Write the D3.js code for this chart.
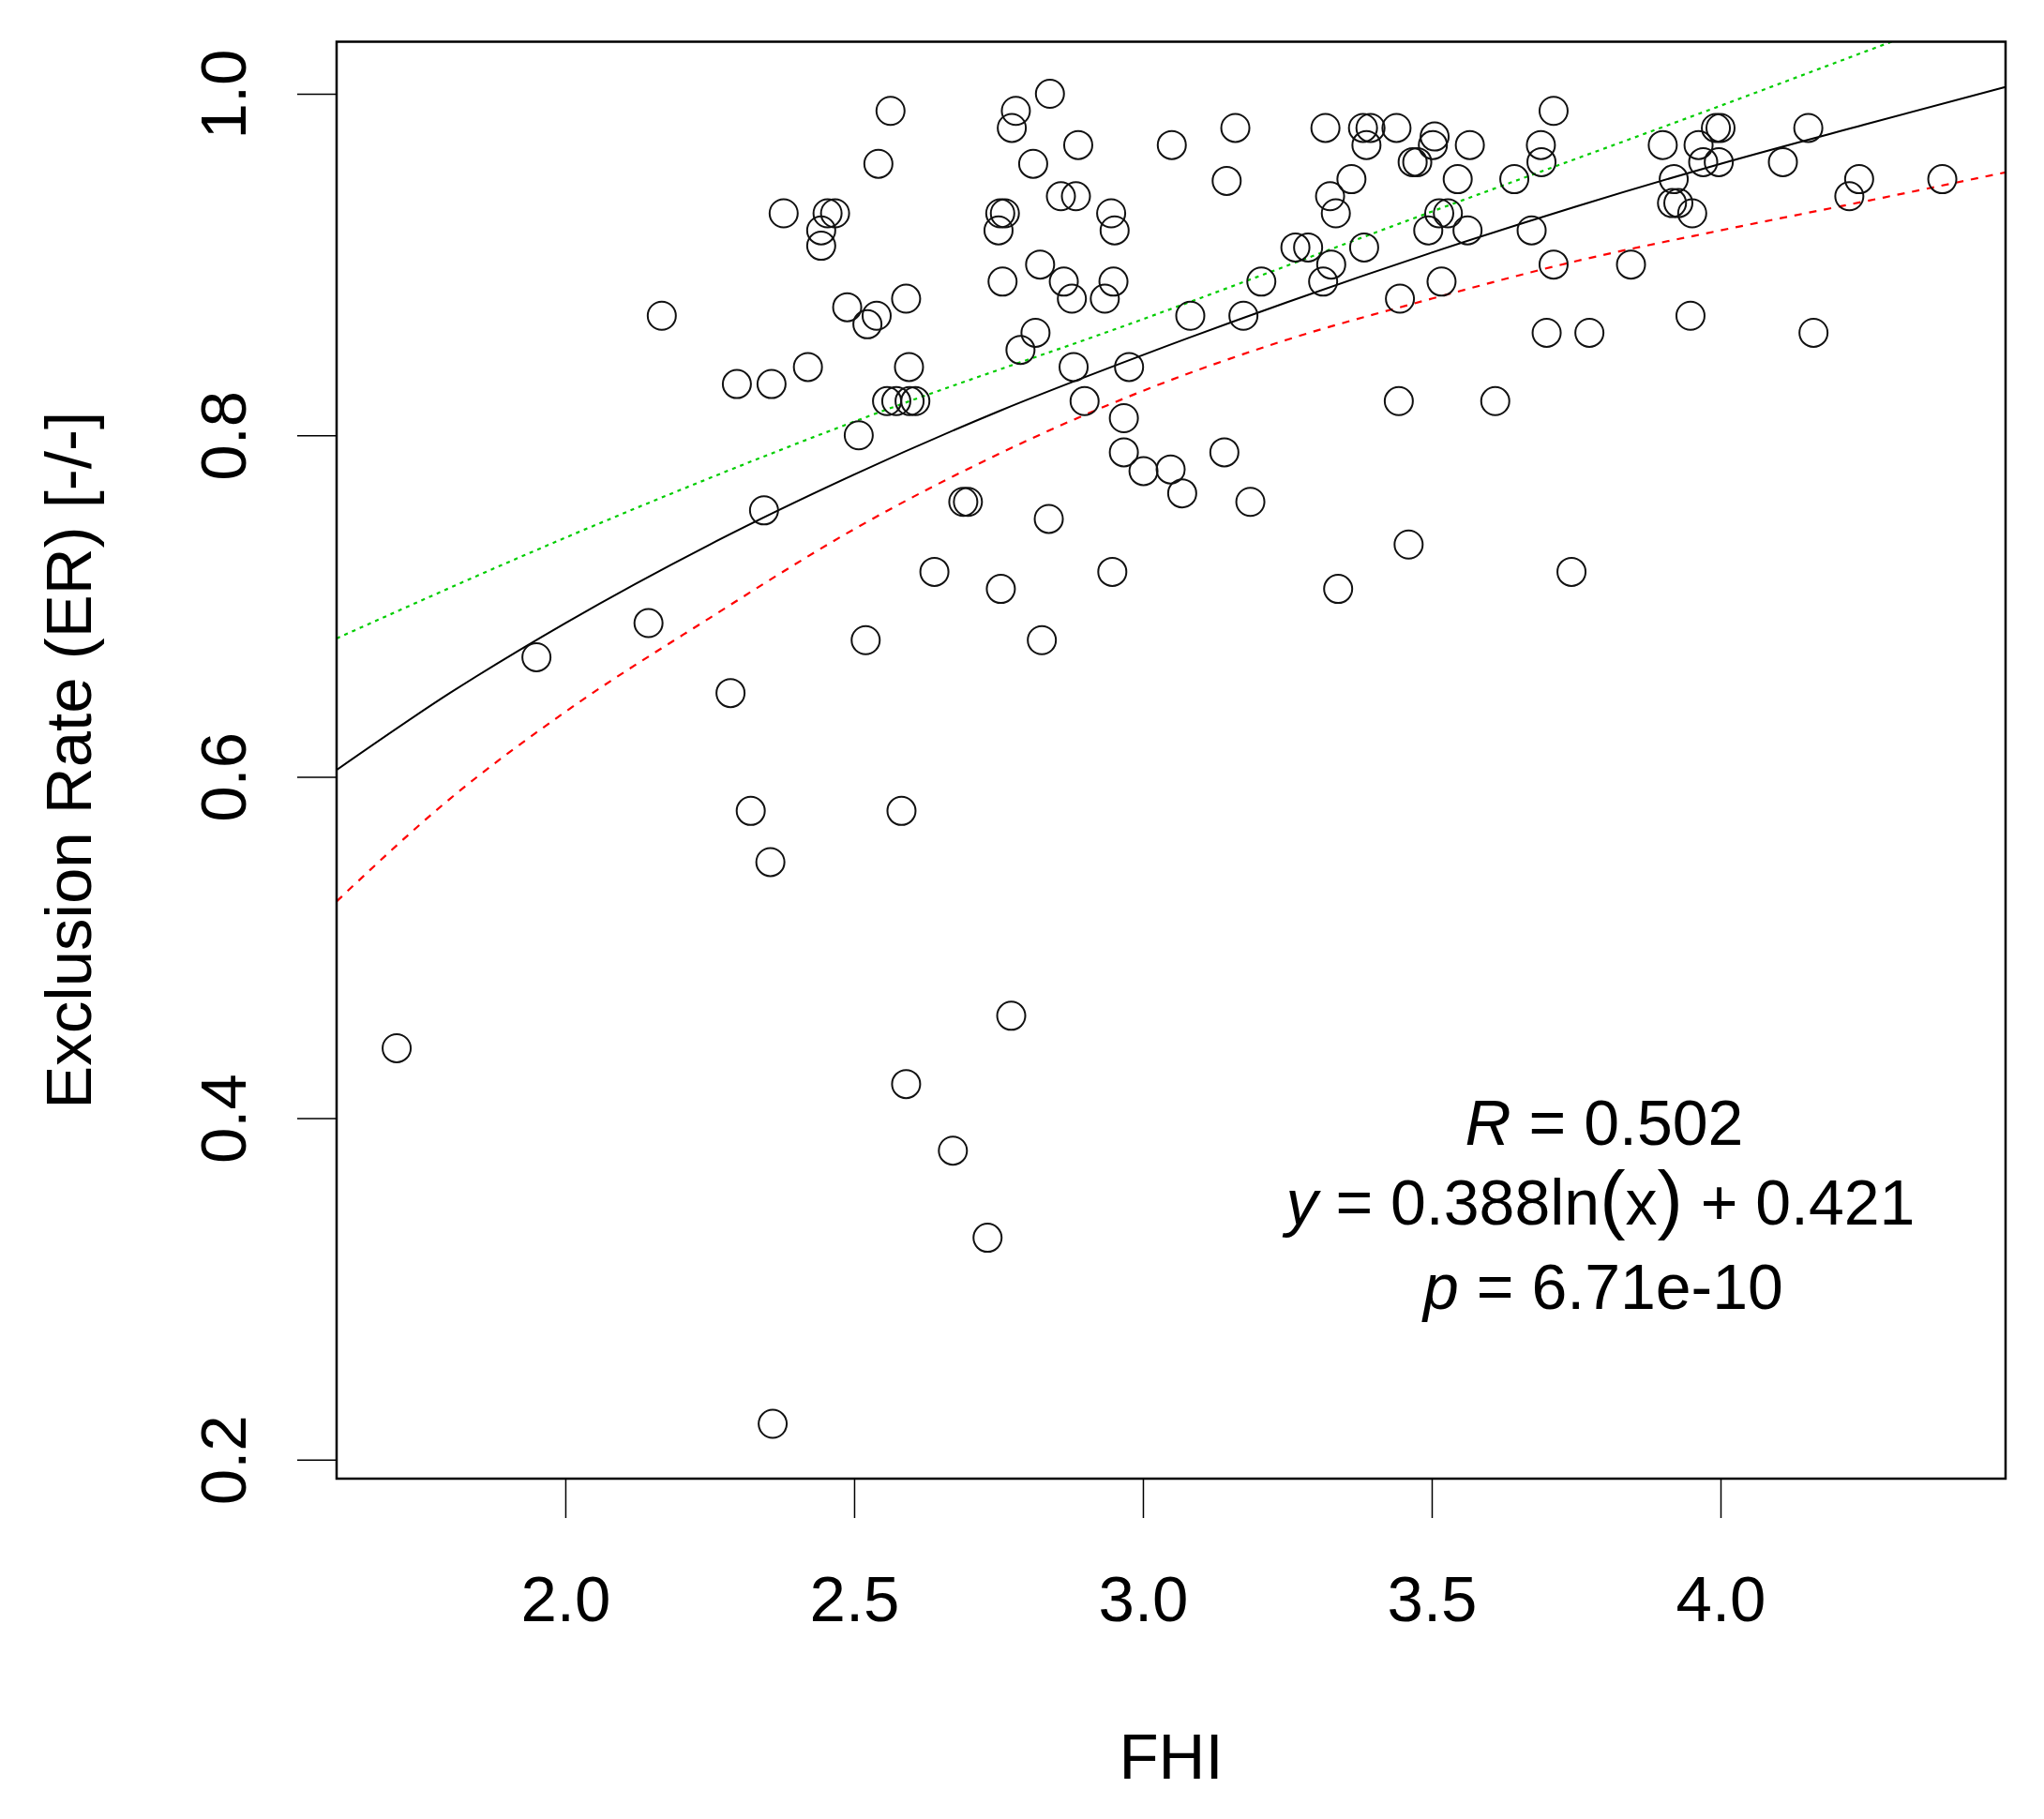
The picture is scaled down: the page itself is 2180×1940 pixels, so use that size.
<!DOCTYPE html>
<html>
<head>
<meta charset="utf-8">
<script src="https://cdn.jsdelivr.net/npm/d3@7"></script>
<style>
  html, body { margin: 0; padding: 0; background: #fff; }
  svg { display: block; font-family: "Liberation Sans", Arial, sans-serif; }
</style>
</head>
<body>
<svg id="chart" width="2180" height="1940"></svg>
<script>
// ---- data ----
const fhi = [1.708,1.950,2.144,2.167,2.286,2.297,2.321,2.355,2.357,2.344,2.359,2.378,2.420,2.443,2.443,2.454,2.467,2.488,2.508,2.520,
  2.523,2.539,2.542,2.557,2.563,2.573,2.582,2.590,2.590,2.595,2.596,2.606,2.639,2.671,2.689,2.697,2.731,2.754,2.753,2.750,
  2.757,2.761,2.772,2.773,2.780,2.788,2.810,2.814,2.822,2.825,2.837,2.839,2.858,2.863,2.877,2.880,2.884,2.888,2.899,2.934,
  2.945,2.949,2.947,2.951,2.967,2.967,2.976,3.001,3.048,3.050,3.068,3.082,3.141,3.145,3.160,3.174,3.186,3.205,3.264,3.286,
  3.312,3.316,3.324,3.326,3.334,3.338,3.361,3.383,3.381,3.387,3.394,3.439,3.445,3.443,3.460,3.467,3.475,3.494,3.502,3.505,
  3.513,3.517,3.528,3.545,3.562,3.566,3.610,3.643,3.673,3.690,3.689,3.699,3.711,3.711,3.742,3.773,3.845,3.900,3.919,3.916,
  3.927,3.948,3.951,3.962,3.970,3.992,3.997,4.000,4.108,4.152,4.161,4.223,4.240,4.384];
const er = [0.441,0.670,0.690,0.870,0.649,0.830,0.580,0.550,0.830,0.756,0.221,0.930,0.840,0.920,0.911,0.930,0.930,0.875,0.800,0.680,
  0.865,0.870,0.959,0.820,0.990,0.820,0.580,0.880,0.420,0.840,0.820,0.820,0.720,0.381,0.761,0.761,0.330,0.710,0.930,0.920,
  0.890,0.930,0.460,0.980,0.990,0.850,0.959,0.860,0.900,0.680,0.751,1.000,0.940,0.890,0.880,0.840,0.940,0.970,0.820,0.880,
  0.930,0.890,0.720,0.920,0.810,0.790,0.840,0.779,0.780,0.970,0.766,0.870,0.790,0.949,0.980,0.870,0.761,0.890,0.910,0.910,
  0.890,0.980,0.940,0.900,0.930,0.710,0.950,0.910,0.980,0.970,0.980,0.980,0.880,0.820,0.736,0.960,0.960,0.920,0.970,0.975,
  0.930,0.890,0.930,0.950,0.920,0.970,0.820,0.950,0.920,0.960,0.970,0.860,0.900,0.990,0.720,0.860,0.900,0.970,0.950,0.936,
  0.936,0.870,0.930,0.970,0.960,0.980,0.960,0.980,0.960,0.980,0.860,0.940,0.950,0.950];

// fitted curve (black, solid)
const fitX   = [1.604,1.8,2.0,2.25,2.5,2.75,3.0,3.25,3.5,3.75,4.0,4.25,4.4935];
const fitY   = [0.604,0.649,0.690,0.736,0.777,0.814,0.847,0.878,0.907,0.934,0.959,0.982,1.004];
// upper curve (green, dotted)
const upX    = [1.604,2.0,2.5,3.0,3.5,4.0,4.3,4.45];
const upY    = [0.681,0.740,0.808,0.868,0.931,0.993,1.031,1.050];
// lower curve (red, dashed)
const loX    = [1.604,1.8,2.0,2.25,2.5,2.75,3.0,3.25,3.5,3.75,4.0,4.25,4.4935];
const loY    = [0.527,0.587,0.638,0.693,0.745,0.789,0.826,0.856,0.880,0.902,0.920,0.937,0.954];

const xTicks = [2.0, 2.5, 3.0, 3.5, 4.0];
const yTicks = [0.2, 0.4, 0.6, 0.8, 1.0];
const xDomain = [1.604, 4.4935];
const yDomain = [0.1889, 1.0305];

// ---- layout ----
const L = 359, R = 2139, T = 44.5, B = 1577;
const svg = d3.select("#chart");
svg.append("rect").attr("width", 2180).attr("height", 1940).attr("fill", "#fff");

const x = d3.scaleLinear().domain(xDomain).range([L, R]);
const y = d3.scaleLinear().domain(yDomain).range([B, T]);

svg.append("defs").append("clipPath").attr("id", "plotclip")
  .append("rect").attr("x", L).attr("y", T).attr("width", R - L).attr("height", B - T);

// axes
const xAxis = svg.append("g").attr("transform", `translate(0,${B})`)
  .call(d3.axisBottom(x).tickValues(xTicks).tickSize(42).tickFormat(d3.format(".1f")));
xAxis.select(".domain").remove();
xAxis.selectAll("line").attr("stroke", "#000").attr("stroke-width", 1.5);
xAxis.selectAll("text").attr("y", 152).attr("dy", 0).attr("fill", "#000")
  .style("font-size", "69px").style("font-family", "'Liberation Sans', Arial, sans-serif");

const yAxis = svg.append("g").attr("transform", `translate(${L},0)`)
  .call(d3.axisLeft(y).tickValues(yTicks).tickSize(42).tickFormat(d3.format(".1f")));
yAxis.select(".domain").remove();
yAxis.selectAll("line").attr("stroke", "#000").attr("stroke-width", 1.5);
yAxis.selectAll("text").attr("x", 0).attr("y", -97).attr("dy", 0)
  .attr("transform", "rotate(-90)").attr("text-anchor", "middle").attr("fill", "#000")
  .style("font-size", "69px").style("font-family", "'Liberation Sans', Arial, sans-serif");

// curves
const line = d3.line().x(d => x(d[0])).y(d => y(d[1])).curve(d3.curveMonotoneX);
const gLines = svg.append("g").attr("clip-path", "url(#plotclip)");
gLines.append("path").datum(d3.zip(upX, upY)).attr("d", line)
  .attr("fill", "none").attr("stroke", "#00cd00").attr("stroke-width", 2.2).attr("stroke-dasharray", "4,5");
gLines.append("path").datum(d3.zip(loX, loY)).attr("d", line)
  .attr("fill", "none").attr("stroke", "#ff0000").attr("stroke-width", 2.2).attr("stroke-dasharray", "8,8");
gLines.append("path").datum(d3.zip(fitX, fitY)).attr("d", line)
  .attr("fill", "none").attr("stroke", "#000").attr("stroke-width", 2);

// points
svg.append("g").selectAll("circle").data(d3.zip(fhi, er)).join("circle")
  .attr("cx", d => x(d[0])).attr("cy", d => y(d[1])).attr("r", 15)
  .attr("fill", "none").attr("stroke", "#111").attr("stroke-width", 2);

// box
svg.append("rect").attr("x", L).attr("y", T).attr("width", R - L).attr("height", B - T)
  .attr("fill", "none").attr("stroke", "#000").attr("stroke-width", 2.5);

// axis titles
svg.append("text").attr("x", (L + R) / 2).attr("y", 1897).attr("text-anchor", "middle")
  .style("font-size", "69px").text("FHI");
svg.append("text").attr("transform", `translate(97,${(T + B) / 2}) rotate(-90)`)
  .attr("text-anchor", "middle").style("font-size", "69px").text("Exclusion Rate (ER) [-/-]");

// annotation
const ann = svg.append("g").style("font-size", "68px").attr("text-anchor", "middle");
const t1 = ann.append("text").attr("x", 1711).attr("y", 1221);
t1.append("tspan").style("font-style", "italic").text("R");
t1.append("tspan").text(" = 0.502");
const t2 = ann.append("text").attr("x", 1707).attr("y", 1306);
t2.append("tspan").style("font-style", "italic").text("y");
t2.append("tspan").text(" = 0.388ln");
t2.append("tspan").style("font-size", "82px").text("(");
t2.append("tspan").text("x");
t2.append("tspan").style("font-size", "82px").text(")");
t2.append("tspan").text(" + 0.421");
const t3 = ann.append("text").attr("x", 1710).attr("y", 1396);
t3.append("tspan").style("font-style", "italic").text("p");
t3.append("tspan").text(" = 6.71e-10");
</script>
</body>
</html>
